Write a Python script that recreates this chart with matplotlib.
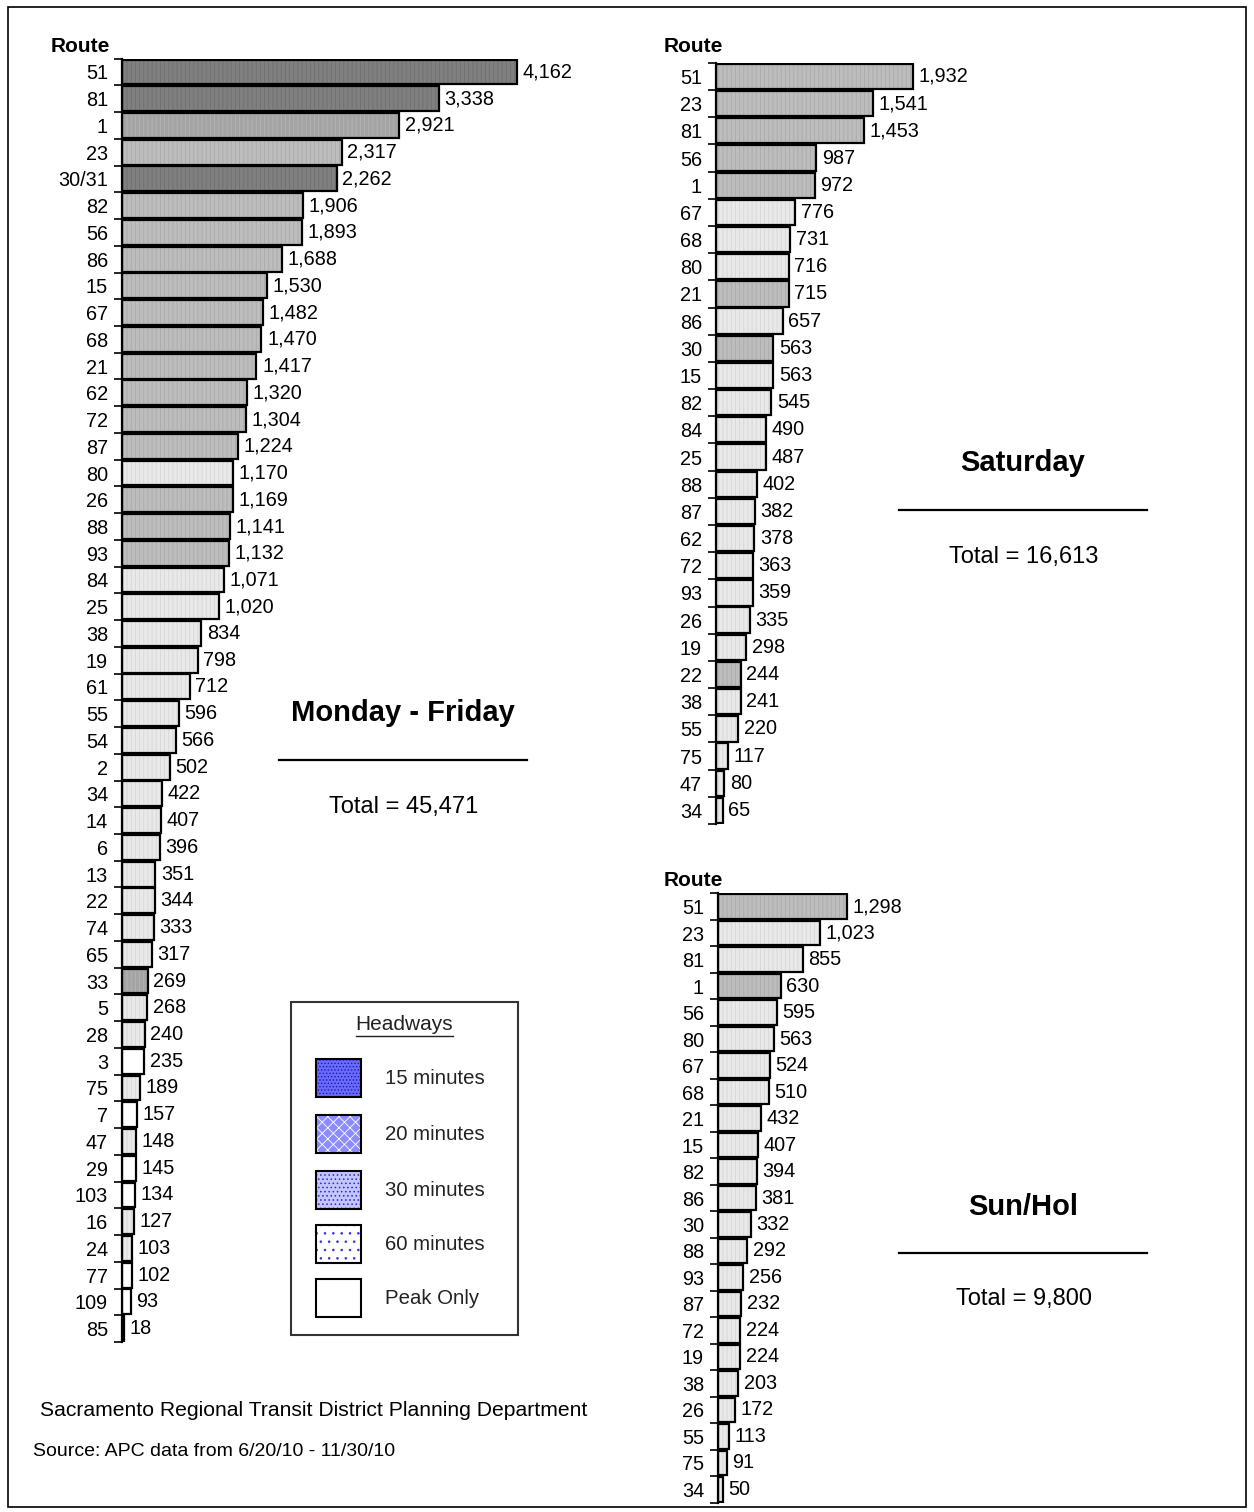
import matplotlib
matplotlib.use("Agg")
import matplotlib.pyplot as plt
from matplotlib.patches import Rectangle
from matplotlib.lines import Line2D

plt.rcParams['font.family'] = ['Liberation Sans', 'DejaVu Sans']

# headway codes: 15, 20, 30, 60, P (peak only)
wk_routes = ['51', '81', '1', '23', '30/31', '82', '56', '86', '15', '67', '68', '21', '62', '72',
             '87', '80', '26', '88', '93', '84', '25', '38', '19', '61', '55', '54', '2', '34',
             '14', '6', '13', '22', '74', '65', '33', '5', '28', '3', '75', '7', '47', '29',
             '103', '16', '24', '77', '109', '85']
wk_riders = [4162, 3338, 2921, 2317, 2262, 1906, 1893, 1688, 1530, 1482, 1470, 1417, 1320, 1304,
             1224, 1170, 1169, 1141, 1132, 1071, 1020, 834, 798, 712, 596, 566, 502, 422,
             407, 396, 351, 344, 333, 317, 269, 268, 240, 235, 189, 157, 148, 145,
             134, 127, 103, 102, 93, 18]
wk_headway = ['15', '15', '20', '30', '15', '30', '30', '30', '30', '30', '30', '30', '30', '30',
              '30', '60', '30', '30', '30', '60', '60', '60', '60', '60', '60', '60', '60', '60',
              '60', '60', '60', '60', '60', '60', '20', '60', '60', 'P', '60', 'P', '60', 'P',
              'P', '60', '60', 'P', 'P', 'P']

sat_routes = ['51', '23', '81', '56', '1', '67', '68', '80', '21', '86', '30', '15', '82', '84',
              '25', '88', '87', '62', '72', '93', '26', '19', '22', '38', '55', '75', '47', '34']
sat_riders = [1932, 1541, 1453, 987, 972, 776, 731, 716, 715, 657, 563, 563, 545, 490,
              487, 402, 382, 378, 363, 359, 335, 298, 244, 241, 220, 117, 80, 65]
sat_headway = ['30', '30', '30', '30', '30', '60', '60', '60', '30', '60', '30', '60', '60', '60',
               '60', '60', '60', '60', '60', '60', '60', '60', '30', '60', '60', '60', '60', '60']

sun_routes = ['51', '23', '81', '1', '56', '80', '67', '68', '21', '15', '82', '86', '30', '88',
              '93', '87', '72', '19', '38', '26', '55', '75', '34']
sun_riders = [1298, 1023, 855, 630, 595, 563, 524, 510, 432, 407, 394, 381, 332, 292,
              256, 232, 224, 224, 203, 172, 113, 91, 50]
sun_headway = ['30', '60', '60', '30', '60', '60', '60', '60', '60', '60', '60', '60', '60', '60',
               '60', '60', '60', '60', '60', '60', '60', '60', '60']

legend_labels = ['15 minutes', '20 minutes', '30 minutes', '60 minutes', 'Peak Only']

gray = {'15': '#808080', '20': '#a4a4a4', '30': '#bdbdbd', '60': '#e9e9e9', 'P': '#ffffff'}
stripe = {'15': '#707070', '20': '#b4b4b4', '30': '#aaaaaa', '60': '#d6d6d6', 'P': '#ffffff'}

W, H = 1254, 1512
fig = plt.figure(figsize=(W / 100, H / 100), dpi=100)


def px_axes(x0, y_top, x1, y_bot):
    return fig.add_axes([x0 / W, 1 - y_bot / H, (x1 - x0) / W, (y_bot - y_top) / H])


def bar_panel(ax, routes, riders, heads, xmax, fs=14.3):
    n = len(routes)
    pos = list(range(n))
    cols = [gray[h] for h in heads]
    scol = [stripe[h] for h in heads]
    plt.rcParams['hatch.linewidth'] = 0.6
    ax.barh(pos, riders, height=0.93, color=cols, edgecolor=scol, hatch='||||', linewidth=0)
    ax.barh(pos, riders, height=0.93, fill=False, edgecolor='black', linewidth=1.6)
    ax.set_ylim(n - 0.5, -0.5)
    ax.set_xlim(0, xmax)
    ax.set_yticks(pos)
    ax.set_yticklabels(routes, fontsize=fs)
    ax.tick_params(axis='y', which='major', length=0, pad=10)
    ax.set_yticks([p + 0.5 for p in range(-1, n)], minor=True)
    ax.tick_params(axis='y', which='minor', length=6, width=1.2, direction='out')
    ax.set_xticks([])
    for s in ['top', 'right', 'bottom']:
        ax.spines[s].set_visible(False)
    ax.spines['left'].set_linewidth(1.6)
    for p, v in zip(pos, riders):
        ax.annotate(f'{v:,}', (v, p), xytext=(4, 0), textcoords='offset points',
                    va='center', ha='left', fontsize=fs, annotation_clip=False)


ax1 = px_axes(122, 58.6, 549, 1342)
bar_panel(ax1, wk_routes, wk_riders, wk_headway, 4500)

ax2 = px_axes(716, 62.9, 940, 824)
bar_panel(ax2, sat_routes, sat_riders, sat_headway, 2200)

ax3 = px_axes(718, 893.3, 857, 1502.7)
bar_panel(ax3, sun_routes, sun_riders, sun_headway, 1400)


def ftext(x, y, s, **kw):
    fig.text(x / W, 1 - y / H, s, **kw)


ftext(80, 46, 'Route', fontsize=15, fontweight='bold', ha='center', va='center')
ftext(693, 46, 'Route', fontsize=15, fontweight='bold', ha='center', va='center')
ftext(693, 880, 'Route', fontsize=15, fontweight='bold', ha='center', va='center')

titles = [('Monday - Friday', 403, 713, 760, 807, 'Total = 45,471'),
          ('Saturday', 1023, 463, 510, 557, 'Total = 16,613'),
          ('Sun/Hol', 1023, 1207, 1253, 1299, 'Total = 9,800')]
for t, cx, ty, ly, toty, tot in titles:
    ftext(cx, ty, t, fontsize=21, fontweight='bold', ha='center', va='center')
    fig.add_artist(Line2D([(cx - 124) / W, (cx + 124) / W], [1 - ly / H, 1 - ly / H],
                          color='black', linewidth=1.6))
    ftext(cx + 1, toty, tot, fontsize=17, ha='center', va='center')

# legend box
fig.add_artist(Rectangle((291 / W, 1 - 1335 / H), 227 / W, 333 / H, fill=False,
                         edgecolor='#333333', linewidth=1.5))
ftext(404, 1025, 'Headways', fontsize=15, ha='center', va='center', color='#222222')
fig.add_artist(Line2D([356 / W, 453 / W], [1 - 1036 / H, 1 - 1036 / H], color='#222222', linewidth=1))
sw = [('#6a6aff', '#1a1aa0', '.....'), ('#8c8cff', '#ffffff', 'xxx'),
      ('#c4c4ff', '#2a2ad0', '....'), ('#ffffff', '#3030e0', '..'), ('#ffffff', None, None)]
sw_top = [1059, 1115, 1171, 1225, 1279]
for (fc, hc, hat), yt, lab in zip(sw, sw_top, legend_labels):
    r = (316 / W, 1 - (yt + 38) / H)
    if hat:
        fig.add_artist(Rectangle(r, 45 / W, 38 / H, facecolor=fc, edgecolor=hc, hatch=hat, linewidth=0))
    else:
        fig.add_artist(Rectangle(r, 45 / W, 38 / H, facecolor=fc, linewidth=0))
    fig.add_artist(Rectangle(r, 45 / W, 38 / H, fill=False, edgecolor='black', linewidth=1.5))
    ftext(385, yt + 19, lab, fontsize=14.7, ha='left', va='center', color='#222222')

ftext(40, 1410, 'Sacramento Regional Transit District Planning Department', fontsize=15.2,
      ha='left', va='center')
ftext(33, 1452, 'Source: APC data from 6/20/10 - 11/30/10', fontsize=14, ha='left', va='center')

fig.add_artist(Rectangle((8 / W, 1 - 1507 / H), 1238 / W, 1500 / H, fill=False,
                         edgecolor='black', linewidth=1.2))

fig.savefig('out.png', dpi=100)
